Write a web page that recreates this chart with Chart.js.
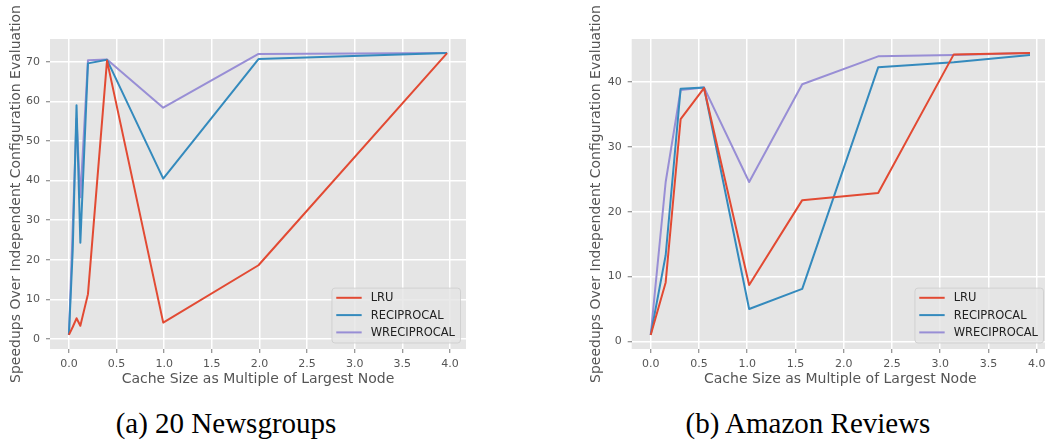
<!DOCTYPE html>
<html>
<head>
<meta charset="utf-8">
<script src="https://cdn.jsdelivr.net/npm/chart.js@4.4.1/dist/chart.umd.min.js"></script>
<style>
  html, body { margin: 0; padding: 0; background: #fff; }
  body { width: 1045px; height: 444px; overflow: hidden; position: relative; }
  canvas { position: absolute; top: 0; }
  #chartA { left: 0; }
  #chartB { left: 580px; }
  .caption {
    position: absolute; top: 407px; width: 400px; text-align: center;
    font-family: "Liberation Serif", "Times New Roman", serif;
    font-size: 29px; line-height: 32px; color: #000; white-space: nowrap;
  }
</style>
</head>
<body>
<canvas id="chartA" width="475" height="400"></canvas>
<canvas id="chartB" width="475" height="400"></canvas>
<div class="caption" style="left: 26px;">(a) 20 Newsgroups</div>
<div class="caption" style="left: 608px;">(b) Amazon Reviews</div>

<script>
// Daten: (a) 20 Newsgroups
const cacheSizeA = [0, 0.04, 0.08, 0.12, 0.2, 0.4, 0.99, 1.99, 3.97];
const lruA = [1.0, 3.0, 5.2, 3.3, 11.3, 70.3, 4.1, 18.6, 72.2];
const reciprocalA = [1.0, 22.4, 59.0, 24.3, 69.6, 70.5, 40.5, 70.7, 72.2];
const wreciprocalA = [1.0, 28.0, 55.6, 35.8, 70.4, 70.6, 58.4, 72.0, 72.2];
const yTicksA = [0, 10, 20, 30, 40, 50, 60, 70];

// Daten: (b) Amazon Reviews
const cacheSizeB = [0, 0.155, 0.31, 0.552, 1.02, 1.57, 2.357, 3.14, 3.93];
const lruB = [1.0, 9.1, 34.3, 39.1, 8.7, 21.8, 22.9, 44.3, 44.5];
const reciprocalB = [1.0, 13.3, 39.0, 39.2, 5.0, 8.1, 42.3, 43.1, 44.2];
const wreciprocalB = [1.0, 24.6, 38.8, 39.2, 24.6, 39.7, 44.0, 44.2, 44.5];
const yTicksB = [0, 10, 20, 30, 40];

const xTicks = [0, 0.5, 1.0, 1.5, 2.0, 2.5, 3.0, 3.5, 4.0];
const seriesNames = ['LRU', 'RECIPROCAL', 'WRECIPROCAL'];
const seriesColors = ['#E24A33', '#348ABD', '#988ED5'];

const xTitle = 'Cache Size as Multiple of Largest Node';
const yTitle = 'Speedups Over Independent Configuration Evaluation';

// grauer Hintergrund im Plotbereich (ggplot-Stil)
const plotBackground = {
    id: 'plotBackground',
    beforeDraw(chart) {
        const { ctx, chartArea } = chart;
        ctx.save();
        ctx.fillStyle = '#E5E5E5';
        ctx.fillRect(chartArea.left, chartArea.top, chartArea.width, chartArea.height);
        ctx.restore();
    }
};

// Legende unten rechts innerhalb des Plotbereichs
const insideLegend = {
    id: 'insideLegend',
    afterDatasetsDraw(chart) {
        const { ctx, chartArea } = chart;
        const sets = chart.data.datasets;
        ctx.save();
        ctx.font = '11.5px "DejaVu Sans"';
        const textW = Math.max(...sets.map(d => ctx.measureText(d.label).width));
        const rowH = 17.3;
        const w = textW + 38.7 + 5.5;
        const h = rowH * sets.length + 3;
        const x = chartArea.right - 5.5 - w;
        const y = chartArea.bottom - 6 - h;
        ctx.globalAlpha = 0.8;
        ctx.fillStyle = '#E5E5E5';
        ctx.strokeStyle = '#CCCCCC';
        ctx.lineWidth = 1;
        ctx.beginPath();
        ctx.roundRect(x, y, w, h, 3);
        ctx.fill();
        ctx.stroke();
        ctx.globalAlpha = 1;
        ctx.textBaseline = 'middle';
        ctx.textAlign = 'left';
        sets.forEach((d, i) => {
            const cy = y + 9.7 + i * rowH;
            ctx.strokeStyle = d.borderColor;
            ctx.lineWidth = 2;
            ctx.beginPath();
            ctx.moveTo(x + 4.3, cy);
            ctx.lineTo(x + 29.7, cy);
            ctx.stroke();
            ctx.fillStyle = '#222222';
            ctx.fillText(d.label, x + 38.7, cy + 0.5);
        });
        ctx.restore();
    }
};

function makeDatasets(xs, seriesList) {
    return seriesList.map((ys, i) => ({
        label: seriesNames[i],
        data: xs.map((x, j) => ({ x: x, y: ys[j] })),
        showLine: true,
        borderColor: seriesColors[i],
        backgroundColor: seriesColors[i],
        borderWidth: 2,
        borderJoinStyle: 'round',
        pointRadius: 0,
        pointHoverRadius: 0,
        tension: 0
    }));
}

function makeChart(id, xs, seriesList, yTicks, range, yAxisWidth, padRight) {
    const ctx = document.getElementById(id).getContext('2d');
    return new Chart(ctx, {
        type: 'scatter',
        data: { datasets: makeDatasets(xs, seriesList) },
        options: {
            responsive: false,
            animation: false,
            events: [],
            layout: { padding: { left: 0, top: 39, right: padRight, bottom: 0 } },
            plugins: { legend: { display: false }, tooltip: { enabled: false } },
            scales: {
                x: {
                    type: 'linear',
                    min: range.xMin,
                    max: range.xMax,
                    afterBuildTicks: s => { s.ticks = xTicks.map(v => ({ value: v })); },
                    afterFit: s => { s.height = 51; },
                    border: { display: false },
                    grid: { color: '#FFFFFF', lineWidth: 1.5, tickColor: '#777777', tickWidth: 1, tickLength: 4 },
                    ticks: {
                        autoSkip: false, maxRotation: 0, padding: 5,
                        color: '#555555', font: { family: 'DejaVu Sans', size: 11 },
                        callback: v => v.toFixed(1)
                    },
                    title: {
                        display: true, text: xTitle, color: '#555555',
                        font: { family: 'DejaVu Sans', size: 14 },
                        padding: { top: 0, bottom: 12 }
                    }
                },
                y: {
                    type: 'linear',
                    min: range.yMin,
                    max: range.yMax,
                    afterBuildTicks: s => { s.ticks = yTicks.map(v => ({ value: v })); },
                    afterFit: s => { s.width = yAxisWidth; },
                    border: { display: false },
                    grid: { color: '#FFFFFF', lineWidth: 1.5, tickColor: '#777777', tickWidth: 1, tickLength: 4 },
                    ticks: {
                        autoSkip: false, padding: 6,
                        color: '#555555', font: { family: 'DejaVu Sans', size: 11 }
                    },
                    title: {
                        display: true, text: yTitle, color: '#555555',
                        font: { family: 'DejaVu Sans', size: 14 },
                        padding: { top: 8, bottom: 0 }
                    }
                }
            }
        },
        plugins: [plotBackground, insideLegend]
    });
}

makeChart('chartA', cacheSizeA, [lruA, reciprocalA, wreciprocalA], yTicksA,
    { xMin: -0.1985, xMax: 4.1685, yMin: -2.56, yMax: 75.76 }, 50, 9);
makeChart('chartB', cacheSizeB, [lruB, reciprocalB, wreciprocalB], yTicksB,
    { xMin: -0.197, xMax: 4.127, yMin: -1.175, yMax: 46.675 }, 51.7, 6);
</script>
</body>
</html>
